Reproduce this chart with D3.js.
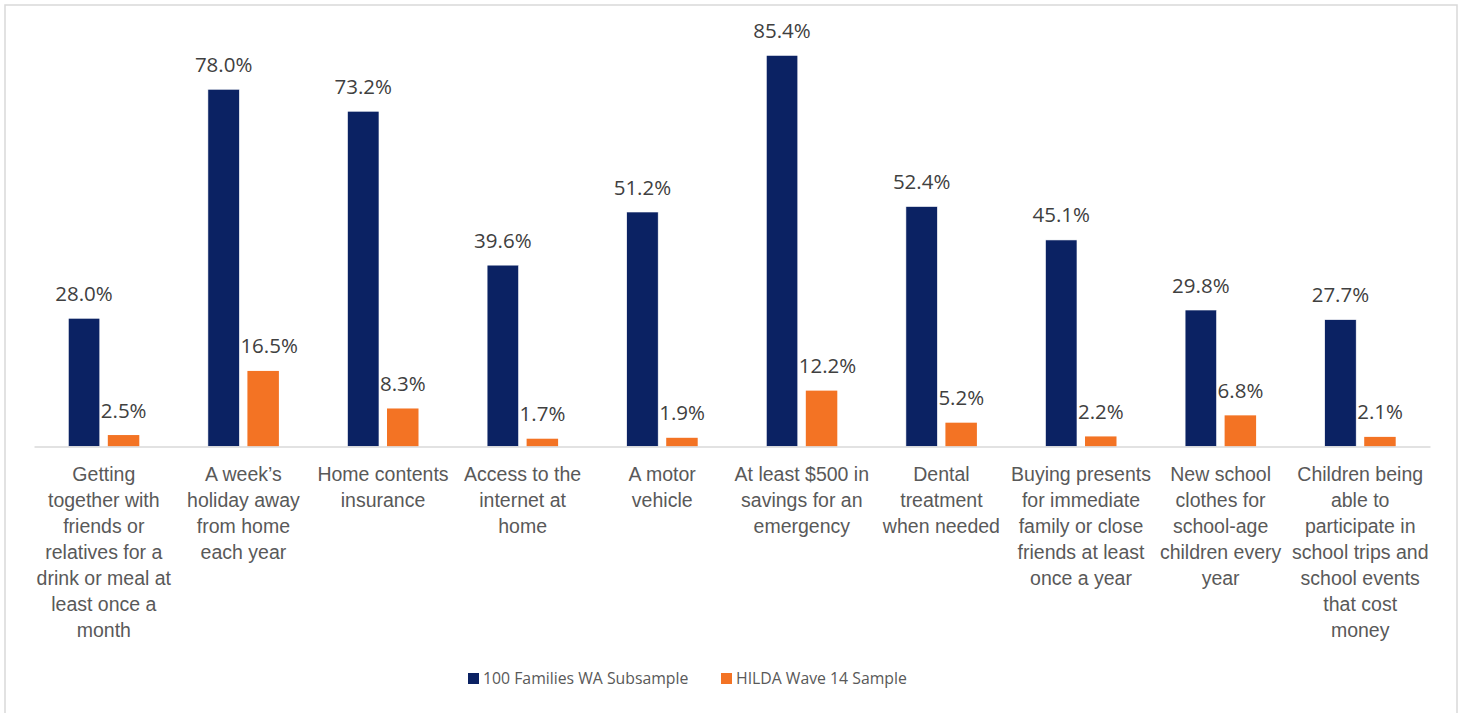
<!DOCTYPE html>
<html>
<head>
<meta charset="utf-8">
<script src="https://cdn.jsdelivr.net/npm/d3@7"></script>
<style>
  body { margin: 0; background: #fff; }
  svg { display: block; font-family: "Open Sans", sans-serif; }
</style>
</head>
<body>
<script>
// categories, wrapped the way the original chart wraps them
var categories = [
  ["Getting", "together with", "friends or", "relatives for a", "drink or meal at", "least once a", "month"],
  ["A week\u2019s", "holiday away", "from home", "each year"],
  ["Home contents", "insurance"],
  ["Access to the", "internet at", "home"],
  ["A motor", "vehicle"],
  ["At least $500 in", "savings for an", "emergency"],
  ["Dental", "treatment", "when needed"],
  ["Buying presents", "for immediate", "family or close", "friends at least", "once a year"],
  ["New school", "clothes for", "school-age", "children every", "year"],
  ["Children being", "able to", "participate in", "school trips and", "school events", "that cost", "money"]
];
var seriesNames = ["100 Families WA Subsample", "HILDA Wave 14 Sample"];
var families = [28.0, 78.0, 73.2, 39.6, 51.2, 85.4, 52.4, 45.1, 29.8, 27.7];
var hilda = [2.5, 16.5, 8.3, 1.7, 1.9, 12.2, 5.2, 2.2, 6.8, 2.1];
var colors = ["#0b2263", "#f37324"];

var width = 1463, height = 713;

var svg = d3.select("body").append("svg")
  .attr("width", width)
  .attr("height", height);

// chart border
svg.append("rect")
  .attr("x", 5).attr("y", 5)
  .attr("width", 1452).attr("height", 730)
  .attr("fill", "none")
  .attr("stroke", "#d9d9d9")
  .attr("stroke-width", 1.5);

var idx = d3.range(categories.length);

var x0 = d3.scaleBand()
  .domain(idx)
  .range([34, 1430]);

var groupW = 71;
var x1 = d3.scaleBand()
  .domain([0, 1])
  .range([(x0.bandwidth() - groupW) / 2, (x0.bandwidth() + groupW) / 2])
  .paddingInner(0.203);

var y = d3.scaleLinear()
  .domain([0, 90])
  .range([446.5, 34.3]);

var rows = idx.map(function (i) {
  return { i: i, values: [families[i], hilda[i]] };
});

var groups = svg.selectAll("g.cat")
  .data(rows)
  .enter()
  .append("g")
  .attr("class", "cat")
  .attr("transform", function (d) { return "translate(" + x0(d.i) + ",0)"; });

groups.selectAll("rect")
  .data(function (d) { return d.values.map(function (v, s) { return { s: s, v: v }; }); })
  .enter()
  .append("rect")
  .attr("x", function (d) { return x1(d.s); })
  .attr("y", function (d) { return y(d.v); })
  .attr("width", x1.bandwidth())
  .attr("height", function (d) { return y(0) - y(d.v); })
  .attr("fill", function (d) { return colors[d.s]; })
  .attr("stroke", function (d) { return d.s === 0 ? "#ffffff" : "none"; })
  .attr("stroke-width", 0.6);

// value labels, centred over the bar; orange ones are pushed right
// so they don't run into the navy bar (like Excel does)
groups.selectAll("text.val")
  .data(function (d) { return d.values.map(function (v, s) { return { s: s, v: v }; }); })
  .enter()
  .append("text")
  .attr("class", "val")
  .attr("y", function (d) { return y(d.v) - 17.5; })
  .attr("font-size", 20.5)
  .attr("fill", "#404040")
  .text(function (d) { return d.v.toFixed(1) + "%"; })
  .attr("x", function (d) {
    var w = this.getComputedTextLength();
    var left = x1(d.s) + x1.bandwidth() / 2 - w / 2;
    if (d.s === 1) {
      left = Math.max(left, x1(0) + x1.bandwidth() + 1);
    }
    return left;
  });

// category axis
var axis = svg.append("g")
  .attr("transform", "translate(0," + y(0) + ")")
  .call(d3.axisBottom(x0).tickSize(0).tickFormat(""));

axis.select(".domain")
  .attr("stroke", "#d9d9d9")
  .attr("stroke-width", 1.5);

axis.selectAll(".tick text").remove();
axis.selectAll(".tick").each(function (i) {
  var t = d3.select(this).append("text")
    .attr("text-anchor", "middle")
    .attr("font-size", 19.5)
    .attr("fill", "#595959")
    .attr("y", 34);
  categories[i].forEach(function (line, k) {
    t.append("tspan")
      .attr("x", 0)
      .attr("dy", k === 0 ? 0 : 26)
      .text(line);
  });
});

// legend
var legend = svg.append("g");
var legendX = [468, 721];
seriesNames.forEach(function (name, s) {
  var g = legend.append("g").attr("transform", "translate(" + legendX[s] + ",673)");
  g.append("rect")
    .attr("width", 11).attr("height", 11)
    .attr("fill", colors[s]);
  g.append("text")
    .attr("x", 15)
    .attr("y", 11)
    .attr("font-size", 15.8)
    .attr("fill", "#595959")
    .text(name);
});
</script>
</body>
</html>
